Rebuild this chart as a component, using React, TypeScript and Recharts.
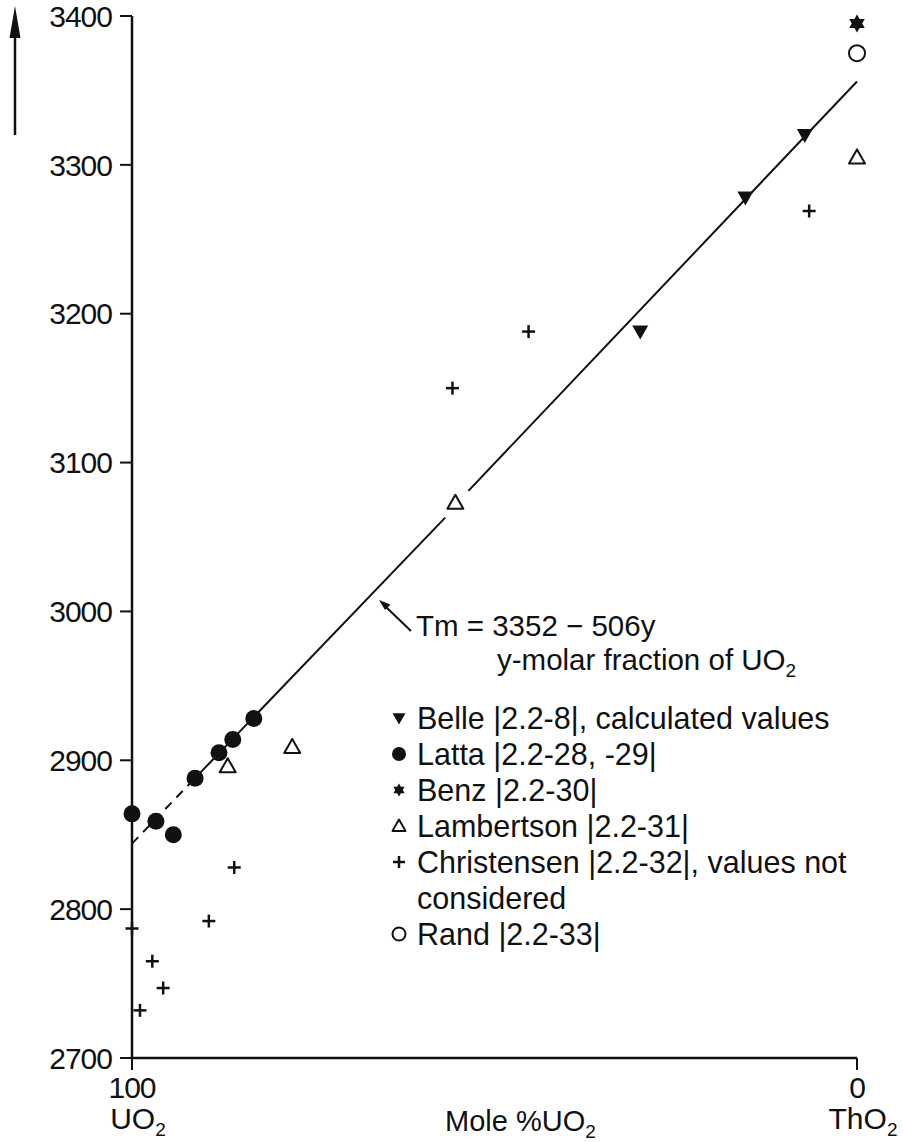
import React from 'react';
import { ScatterChart, Scatter, XAxis, YAxis, ReferenceLine, Legend } from 'recharts';

// axis ticks
const yTicks = [2700, 2800, 2900, 3000, 3100, 3200, 3300, 3400];
const xTicks = [100, 0];

// measured melting points, x = mole % UO2, y = Tm (K)
const belle = [
  { x: 7.2, y: 3320 },
  { x: 15.4, y: 3278 },
  { x: 29.9, y: 3188 },
];
const latta = [
  { x: 100, y: 2864 },
  { x: 96.7, y: 2859 },
  { x: 94.3, y: 2850 },
  { x: 91.3, y: 2888 },
  { x: 88, y: 2905 },
  { x: 86.1, y: 2914 },
  { x: 83.2, y: 2928 },
];
const benz = [{ x: 0, y: 3395 }];
const lambertson = [
  { x: 0, y: 3305 },
  { x: 55.4, y: 3073 },
  { x: 77.9, y: 2909 },
  { x: 86.8, y: 2896 },
];
const christensen = [
  { x: 6.6, y: 3269 },
  { x: 45.3, y: 3188 },
  { x: 55.8, y: 3150 },
  { x: 85.9, y: 2828 },
  { x: 89.4, y: 2792 },
  { x: 100, y: 2787 },
  { x: 97.2, y: 2765 },
  { x: 95.7, y: 2747 },
  { x: 98.9, y: 2732 },
];
const rand = [{ x: 0, y: 3375 }];

// fit line Tm = 3352 - 506y, pieces as drawn
const fitDashed = [{ x: 100, y: 2844 }, { x: 91.5, y: 2887 }];
const fitLow = [{ x: 91.5, y: 2887 }, { x: 56.8, y: 3063 }];
const fitHigh = [{ x: 53.6, y: 3081 }, { x: 0, y: 3356 }];

const INK = '#111';
const FONT = '"Liberation Sans", Arial, Helvetica, sans-serif';

const legendRows = [
  { key: 'belle', text: 'Belle |2.2-8|, calculated values' },
  { key: 'latta', text: 'Latta |2.2-28, -29|' },
  { key: 'benz', text: 'Benz |2.2-30|' },
  { key: 'lambertson', text: 'Lambertson |2.2-31|' },
  { key: 'christensen', text: 'Christensen |2.2-32|, values not', more: 'considered' },
  { key: 'rand', text: 'Rand |2.2-33|' },
];

function marker(kind: string, cx: number, cy: number, s: number) {
  switch (kind) {
    case 'belle':
      return <polygon points={`${cx - s},${cy - s * 0.75} ${cx + s},${cy - s * 0.75} ${cx},${cy + s}`} fill={INK} />;
    case 'latta':
      return <circle cx={cx} cy={cy} r={s} fill={INK} />;
    case 'benz': {
      const up = [0, 1, 2].map((i) => {
        const a = -Math.PI / 2 + (i * 2 * Math.PI) / 3;
        return `${cx + s * Math.cos(a)},${cy + s * Math.sin(a)}`;
      });
      const dn = [0, 1, 2].map((i) => {
        const a = Math.PI / 2 + (i * 2 * Math.PI) / 3;
        return `${cx + s * Math.cos(a)},${cy + s * Math.sin(a)}`;
      });
      return (
        <g fill={INK}>
          <polygon points={up.join(' ')} />
          <polygon points={dn.join(' ')} />
        </g>
      );
    }
    case 'lambertson':
      return (
        <polygon
          points={`${cx},${cy - s} ${cx - s},${cy + s * 0.75} ${cx + s},${cy + s * 0.75}`}
          fill="none"
          stroke={INK}
          strokeWidth={2}
          strokeLinejoin="round"
        />
      );
    case 'christensen':
      return (
        <g stroke={INK} strokeWidth={2.5}>
          <line x1={cx - s} y1={cy} x2={cx + s} y2={cy} />
          <line x1={cx} y1={cy - s} x2={cx} y2={cy + s} />
        </g>
      );
    default:
      return <circle cx={cx} cy={cy} r={s} fill="none" stroke={INK} strokeWidth={2} />;
  }
}

const sizes: Record<string, number> = {
  belle: 8,
  latta: 8.5,
  benz: 9,
  lambertson: 8,
  christensen: 6.5,
  rand: 8,
};

const shapeFor = (kind: string) => (p: any) => marker(kind, p.cx, p.cy, sizes[kind]);

function XTick({ x, y, payload }: any) {
  const v = payload.value;
  return (
    <g fontFamily={FONT} fill={INK}>
      <text x={x} y={y + 26} textAnchor="middle" fontSize={30} letterSpacing={-1}>
        {v}
      </text>
      <text x={x + 6} y={y + 57} textAnchor="middle" fontSize={30}>
        {v === 100 ? 'UO' : 'ThO'}
        <tspan dy={7} fontSize={19}>2</tspan>
      </text>
    </g>
  );
}

function LegendBox() {
  return (
    <div style={{ fontFamily: FONT, fontSize: 30.5, color: INK, lineHeight: '36px' }}>
      {legendRows.map((r) => (
        <div key={r.key}>
          <div style={{ display: 'flex', alignItems: 'center', height: 36, whiteSpace: 'nowrap' }}>
            <svg width={18} height={20} style={{ marginRight: 9, flexShrink: 0 }}>
              {marker(r.key, 9, 10, r.key === 'christensen' ? 6 : r.key === 'latta' ? 7 : 6.5)}
            </svg>
            <span>{r.text}</span>
          </div>
          {r.more && <div style={{ paddingLeft: 27, height: 36 }}>{r.more}</div>}
        </div>
      ))}
    </div>
  );
}

export default function App() {
  return (
    <div style={{ position: 'absolute', left: 0, top: 0, width: 903, height: 1142, background: '#fff' }}>
      <ScatterChart width={903} height={1142} margin={{ top: 16, right: 46, bottom: 0, left: 72 }}>
        <XAxis
          type="number"
          dataKey="x"
          domain={[0, 100]}
          reversed
          ticks={xTicks}
          interval={0}
          height={84}
          tick={<XTick />}
          tickSize={12}
          tickMargin={2}
          axisLine={{ stroke: INK, strokeWidth: 2.5 }}
          tickLine={{ stroke: INK, strokeWidth: 2 }}
        />
        <YAxis
          type="number"
          dataKey="y"
          domain={[2700, 3400]}
          ticks={yTicks}
          interval={0}
          width={60}
          tickSize={12}
          tickMargin={8}
          axisLine={{ stroke: INK, strokeWidth: 2.5 }}
          tickLine={{ stroke: INK, strokeWidth: 2 }}
          tick={{ fill: INK, fontSize: 30, fontFamily: FONT, letterSpacing: -1 }}
        />
        <ReferenceLine segment={fitDashed} stroke={INK} strokeWidth={2} strokeDasharray="9 7" />
        <ReferenceLine segment={fitLow} stroke={INK} strokeWidth={2} />
        <ReferenceLine segment={fitHigh} stroke={INK} strokeWidth={2} />
        <Scatter name="Belle" data={belle} shape={shapeFor('belle')} isAnimationActive={false} />
        <Scatter name="Latta" data={latta} shape={shapeFor('latta')} isAnimationActive={false} />
        <Scatter name="Benz" data={benz} shape={shapeFor('benz')} isAnimationActive={false} />
        <Scatter name="Lambertson" data={lambertson} shape={shapeFor('lambertson')} isAnimationActive={false} />
        <Scatter name="Christensen" data={christensen} shape={shapeFor('christensen')} isAnimationActive={false} />
        <Scatter name="Rand" data={rand} shape={shapeFor('rand')} isAnimationActive={false} />
        <Legend
          layout="vertical"
          align="center"
          verticalAlign="middle"
          content={() => <LegendBox />}
          wrapperStyle={{ left: 390, top: 700, width: 510, height: 260 }}
        />
      </ScatterChart>
      <svg
        width={903}
        height={1142}
        style={{ position: 'absolute', left: 0, top: 0, pointerEvents: 'none' }}
        fontFamily={FONT}
        fill={INK}
      >
        {/* temperature arrow */}
        <line x1={15} y1={135} x2={15} y2={30} stroke={INK} strokeWidth={2.5} />
        <polygon points="15,6 9.5,38 20.5,38" fill={INK} />
        {/* fit annotation */}
        <line x1={411} y1={631} x2={386} y2={607} stroke={INK} strokeWidth={2} />
        <polygon points="379,600 390.5,604.5 385,610" fill={INK} />
        <text x={416} y={636} fontSize={29.5}>
          Tm = 3352 − 506y
        </text>
        <text x={497} y={670} fontSize={29.5}>
          y-molar fraction of UO<tspan dy={7} fontSize={19}>2</tspan>
        </text>
        {/* x axis title */}
        <text x={445} y={1131} fontSize={29}>
          Mole %UO<tspan dy={7} fontSize={19}>2</tspan>
        </text>
      </svg>
    </div>
  );
}
